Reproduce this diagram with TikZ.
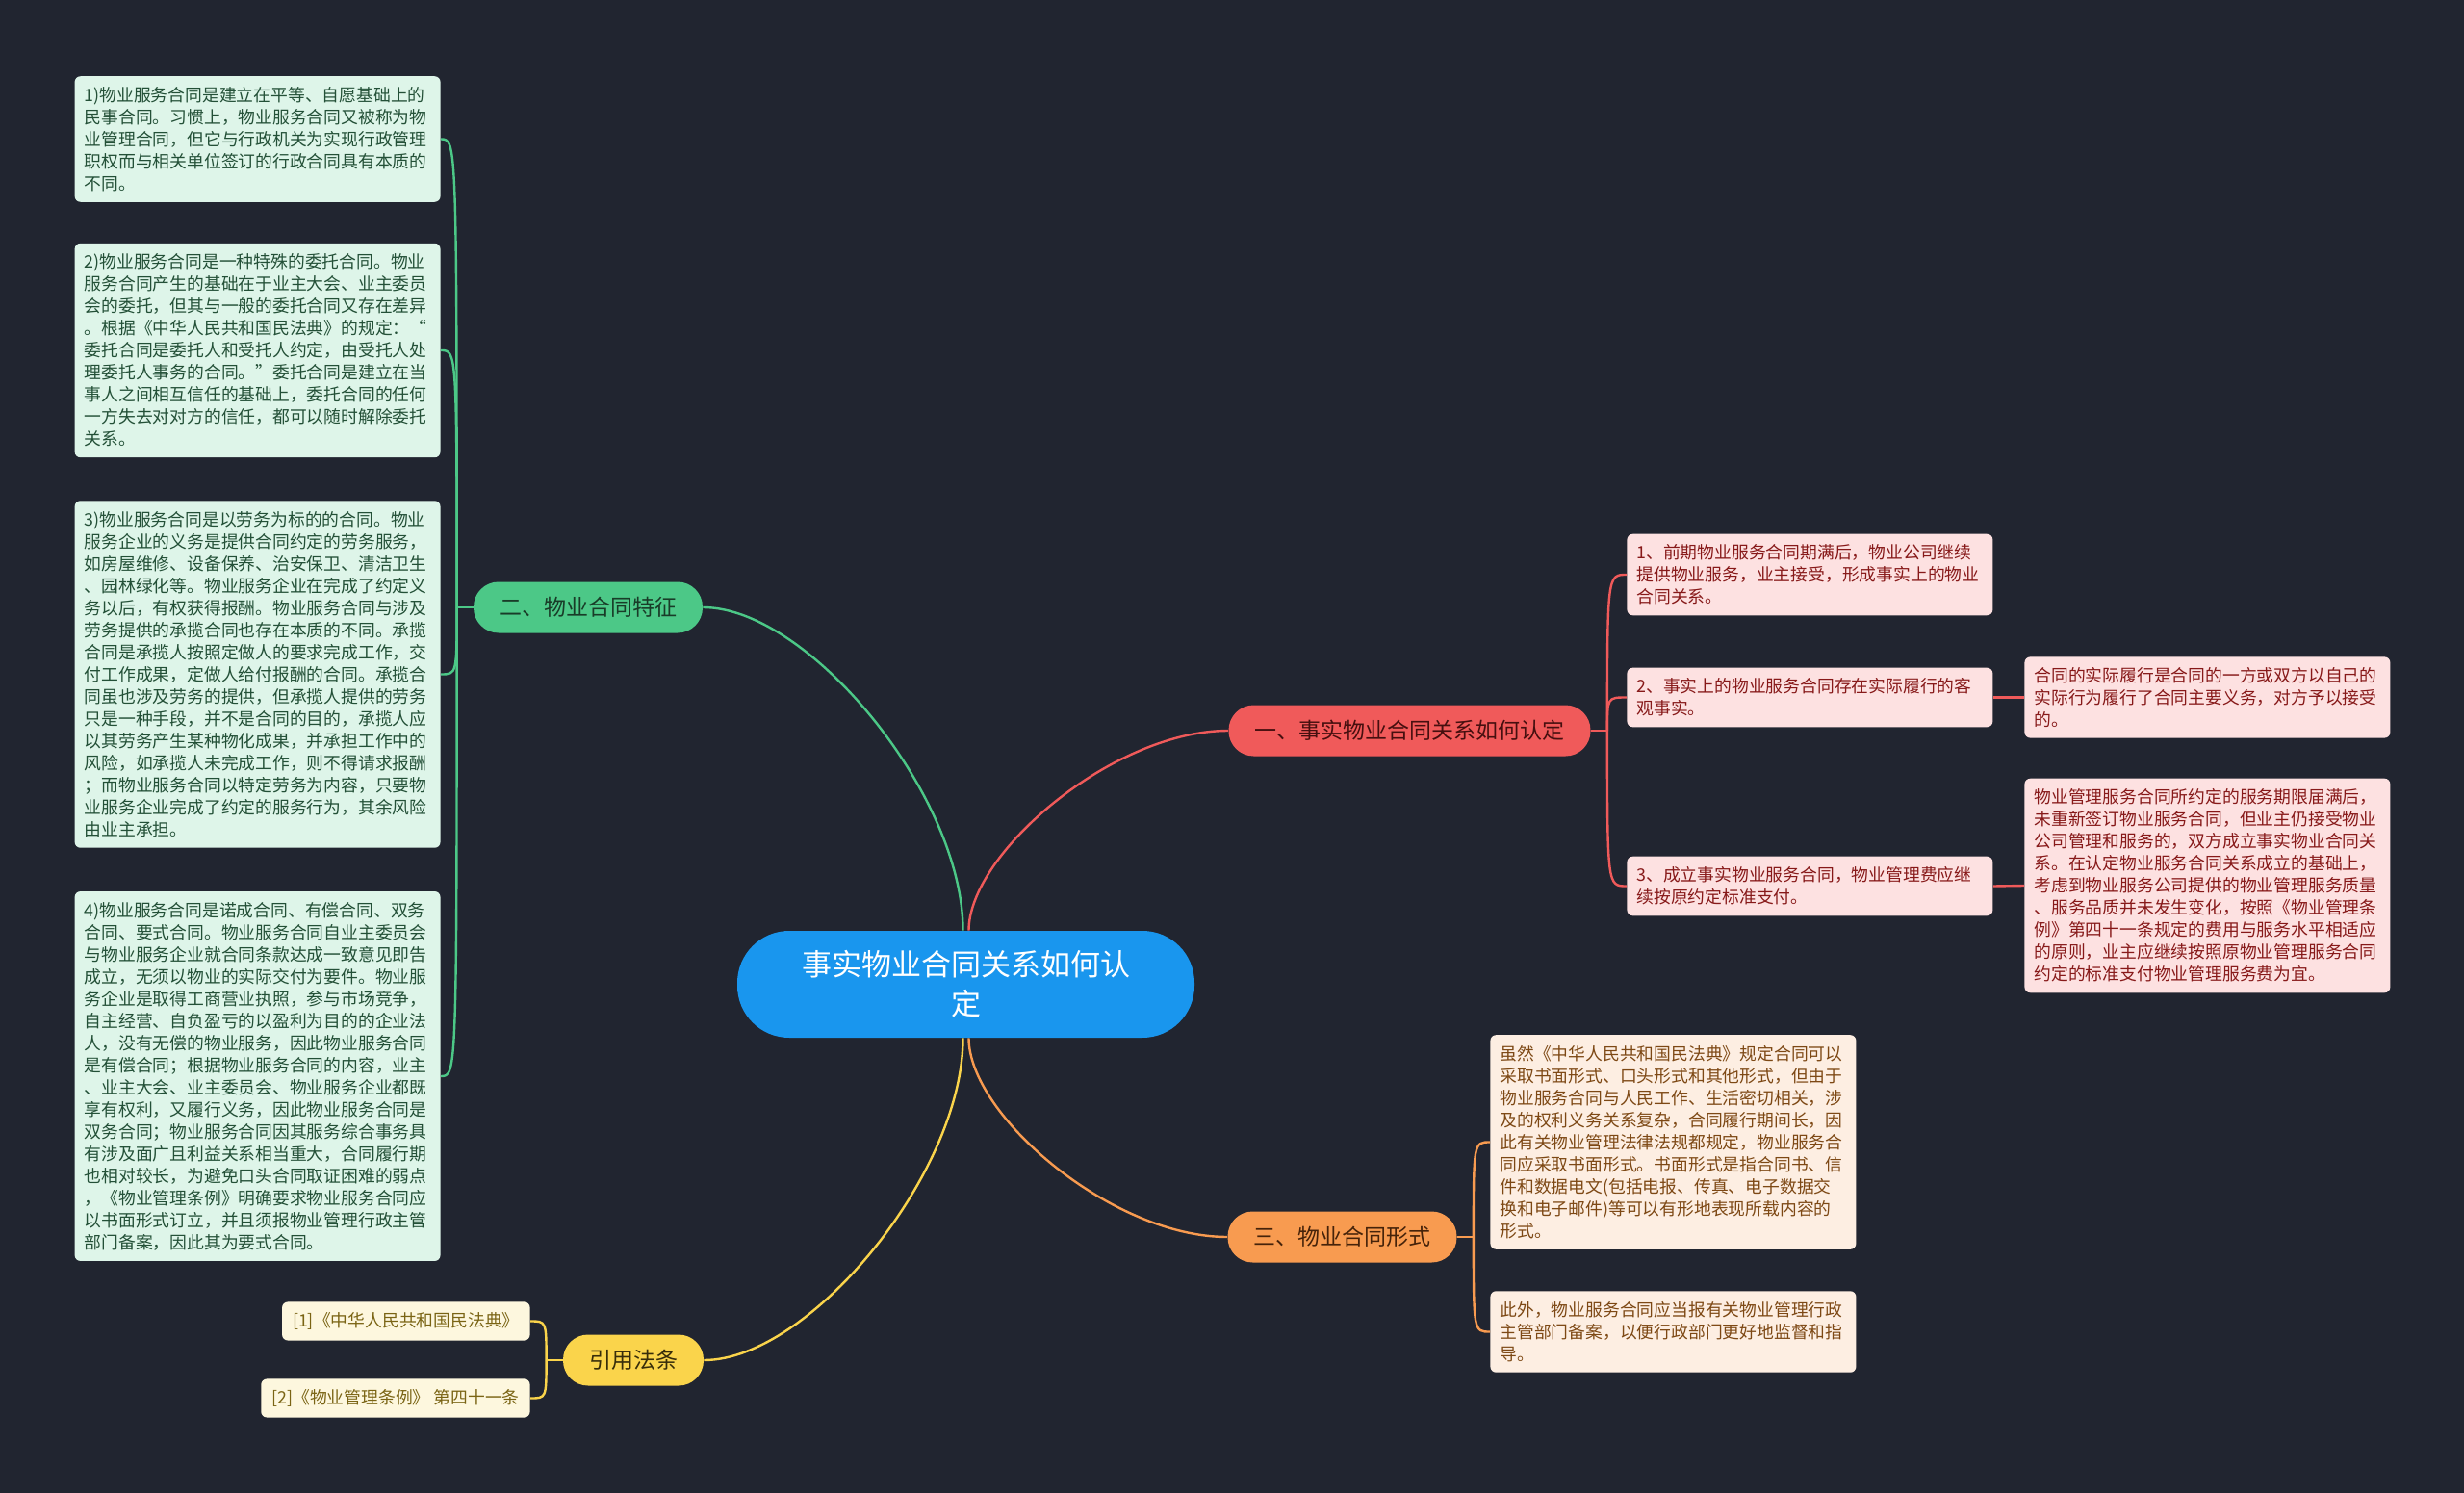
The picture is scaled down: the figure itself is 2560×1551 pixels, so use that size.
\documentclass[tikz,border=0pt]{standalone}
\usepackage{fontspec}
\setmainfont{Noto Sans CJK SC}
\usepackage{tikz}
\usetikzlibrary{calc}

\definecolor{bgcol}{RGB}{33,37,48}
\definecolor{rootfill}{RGB}{25,150,238}
\definecolor{gfill}{RGB}{76,200,135}
\definecolor{rfill}{RGB}{240,90,90}
\definecolor{ofill}{RGB}{248,155,80}
\definecolor{yfill}{RGB}{250,212,75}
\definecolor{gleaffill}{RGB}{222,245,233}
\definecolor{rleaffill}{RGB}{253,225,225}
\definecolor{oleaffill}{RGB}{253,238,226}
\definecolor{yleaffill}{RGB}{253,247,222}
\definecolor{gtext}{RGB}{35,80,55}
\definecolor{rtext}{RGB}{135,25,25}
\definecolor{otext}{RGB}{125,72,20}
\definecolor{ytext}{RGB}{122,100,20}
\definecolor{gbtext}{RGB}{25,60,40}
\definecolor{rbtext}{RGB}{70,15,15}
\definecolor{obtext}{RGB}{70,35,10}
\definecolor{ybtext}{RGB}{55,45,10}

\tikzset{
  root/.style={fill=rootfill, text=white, rounded corners=27pt, minimum width=237.5pt,
    minimum height=55.5pt, align=center, font=\fontsize{15.5pt}{20.5pt}\selectfont},
  branch/.style={rounded corners=13pt, minimum height=26.5pt, inner xsep=13.5pt,
    font=\fontsize{11.5pt}{14pt}\selectfont},
  leafbase/.style={rounded corners=3pt, inner xsep=5pt, inner ysep=5.5pt,
    font=\fontsize{8.9pt}{11.5pt}\selectfont},
  leaf/.style={leafbase, text width=180pt, align=left},
  gleaf/.style={leaf, fill=gleaffill, text=gtext, anchor=east},
  rleaf/.style={leaf, fill=rleaffill, text=rtext, anchor=west},
  oleaf/.style={leaf, fill=oleaffill, text=otext, anchor=west},
  yleaf/.style={leafbase, inner xsep=5.5pt, fill=yleaffill, text=ytext, anchor=east},
  gline/.style={draw=gfill, line width=1.2pt},
  rline/.style={draw=rfill, line width=1.2pt},
  oline/.style={draw=ofill, line width=1.2pt},
  yline/.style={draw=yfill, line width=1.2pt}
}

\begin{document}
\begin{tikzpicture}[x=0.5pt, y=-0.5pt]
  \fill[bgcol] (0,0) rectangle (2560,1551);
  % centre and the four branches
  \node[root] (root) at (1003.5,1022.5) {事实物业合同关系如何认\\定};
  \node[branch, fill=gfill, text=gbtext] (fea) at (611,631) {二、物业合同特征};
  \node[branch, fill=rfill, text=rbtext] (ident) at (1464.5,759) {一、事实物业合同关系如何认定};
  \node[branch, fill=ofill, text=obtext] (form) at (1394.5,1285) {三、物业合同形式};
  \node[branch, fill=yfill, text=ybtext] (law) at (658,1413) {引用法条};

  % branch curves
  \draw[gline] (fea.east) .. controls +(110,0) and +(0,-140) .. ($(root.north)+(-3,0)$);
  \draw[rline] ($(root.north)+(3,0)$) .. controls +(0,-80) and +(-120,0) .. (ident.west);
  \draw[oline] ($(root.south)+(3,0)$) .. controls +(0,80) and +(-120,0) .. (form.west);
  \draw[yline] ($(root.south)+(-3,0)$) .. controls +(0,140) and +(110,0) .. (law.east);

  % features (left, green)
  \node[gleaf] (fea1) at (458,144.5) {1)物业服务合同是建立在平等、自愿基础上的\\
民事合同。习惯上，物业服务合同又被称为物\\
业管理合同，但它与行政机关为实现行政管理\\
职权而与相关单位签订的行政合同具有本质的\\
不同。};
  \node[gleaf] (fea2) at (458,364) {2)物业服务合同是一种特殊的委托合同。物业\\
服务合同产生的基础在于业主大会、业主委员\\
会的委托，但其与一般的委托合同又存在差异\\
。根据《中华人民共和国民法典》的规定：“\\
委托合同是委托人和受托人约定，由受托人处\\
理委托人事务的合同。”委托合同是建立在当\\
事人之间相互信任的基础上，委托合同的任何\\
一方失去对对方的信任，都可以随时解除委托\\
关系。};
  \node[gleaf] (fea3) at (458,700.5) {3)物业服务合同是以劳务为标的的合同。物业\\
服务企业的义务是提供合同约定的劳务服务，\\
如房屋维修、设备保养、治安保卫、清洁卫生\\
、园林绿化等。物业服务企业在完成了约定义\\
务以后，有权获得报酬。物业服务合同与涉及\\
劳务提供的承揽合同也存在本质的不同。承揽\\
合同是承揽人按照定做人的要求完成工作，交\\
付工作成果，定做人给付报酬的合同。承揽合\\
同虽也涉及劳务的提供，但承揽人提供的劳务\\
只是一种手段，并不是合同的目的，承揽人应\\
以其劳务产生某种物化成果，并承担工作中的\\
风险，如承揽人未完成工作，则不得请求报酬\\
；而物业服务合同以特定劳务为内容，只要物\\
业服务企业完成了约定的服务行为，其余风险\\
由业主承担。};
  \node[gleaf] (fea4) at (458,1118) {4)物业服务合同是诺成合同、有偿合同、双务\\
合同、要式合同。物业服务合同自业主委员会\\
与物业服务企业就合同条款达成一致意见即告\\
成立，无须以物业的实际交付为要件。物业服\\
务企业是取得工商营业执照，参与市场竞争，\\
自主经营、自负盈亏的以盈利为目的的企业法\\
人，没有无偿的物业服务，因此物业服务合同\\
是有偿合同；根据物业服务合同的内容，业主\\
、业主大会、业主委员会、物业服务企业都既\\
享有权利，又履行义务，因此物业服务合同是\\
双务合同；物业服务合同因其服务综合事务具\\
有涉及面广且利益关系相当重大，合同履行期\\
也相对较长，为避免口头合同取证困难的弱点\\
，《物业管理条例》明确要求物业服务合同应\\
以书面形式订立，并且须报物业管理行政主管\\
部门备案，因此其为要式合同。};
  \coordinate (gj) at ($(fea.west)+(-17,0)$);
  \draw[gline] (fea.west) -- (gj);
  \draw[gline] (gj) .. controls (gj |- fea1.east) .. (fea1.east);
  \draw[gline] (gj) .. controls (gj |- fea2.east) .. (fea2.east);
  \draw[gline] (gj) .. controls (gj |- fea3.east) .. (fea3.east);
  \draw[gline] (gj) .. controls (gj |- fea4.east) .. (fea4.east);

  % identification (right, red)
  \node[rleaf] (ident1) at (1690,597) {1、前期物业服务合同期满后，物业公司继续\\
提供物业服务，业主接受，形成事实上的物业\\
合同关系。};
  \node[rleaf] (ident2) at (1690,724.5) {2、事实上的物业服务合同存在实际履行的客\\
观事实。};
  \node[rleaf] (ident3) at (1690,920.5) {3、成立事实物业服务合同，物业管理费应继\\
续按原约定标准支付。};
  \node[rleaf] (ident2b) at (2103,724.5) {合同的实际履行是合同的一方或双方以自己的\\
实际行为履行了合同主要义务，对方予以接受\\
的。};
  \node[rleaf] (ident3b) at (2103,920) {物业管理服务合同所约定的服务期限届满后，\\
未重新签订物业服务合同，但业主仍接受物业\\
公司管理和服务的，双方成立事实物业合同关\\
系。在认定物业服务合同关系成立的基础上，\\
考虑到物业服务公司提供的物业管理服务质量\\
、服务品质并未发生变化，按照《物业管理条\\
例》第四十一条规定的费用与服务水平相适应\\
的原则，业主应继续按照原物业管理服务合同\\
约定的标准支付物业管理服务费为宜。};
  \coordinate (rj) at ($(ident.east)+(17,0)$);
  \draw[rline] (ident.east) -- (rj);
  \draw[rline] (rj) .. controls (rj |- ident1.west) .. (ident1.west);
  \draw[rline] (rj) .. controls (rj |- ident2.west) .. (ident2.west);
  \draw[rline] (rj) .. controls (rj |- ident3.west) .. (ident3.west);
  \draw[rline] (ident2.east) -- (ident2b.west);
  \draw[rline] (ident3.east) -- (ident3b.west);

  % form (right, orange)
  \node[oleaf] (form1) at (1548,1186.5) {虽然《中华人民共和国民法典》规定合同可以\\
采取书面形式、口头形式和其他形式，但由于\\
物业服务合同与人民工作、生活密切相关，涉\\
及的权利义务关系复杂，合同履行期间长，因\\
此有关物业管理法律法规都规定，物业服务合\\
同应采取书面形式。书面形式是指合同书、信\\
件和数据电文(包括电报、传真、电子数据交\\
换和电子邮件)等可以有形地表现所载内容的\\
形式。};
  \node[oleaf] (form2) at (1548,1383.5) {此外，物业服务合同应当报有关物业管理行政\\
主管部门备案，以便行政部门更好地监督和指\\
导。};
  \coordinate (oj) at ($(form.east)+(17,0)$);
  \draw[oline] (form.east) -- (oj);
  \draw[oline] (oj) .. controls (oj |- form1.west) .. (form1.west);
  \draw[oline] (oj) .. controls (oj |- form2.west) .. (form2.west);

  % cited laws (left, yellow)
  \node[yleaf] (law1) at (551,1372.5) {[1]《中华人民共和国民法典》};
  \node[yleaf] (law2) at (551,1452.5) {[2]《物业管理条例》 第四十一条};
  \coordinate (yj) at ($(law.west)+(-17,0)$);
  \draw[yline] (law.west) -- (yj);
  \draw[yline] (yj) .. controls (yj |- law1.east) .. (law1.east);
  \draw[yline] (yj) .. controls (yj |- law2.east) .. (law2.east);
\end{tikzpicture}
\end{document}
